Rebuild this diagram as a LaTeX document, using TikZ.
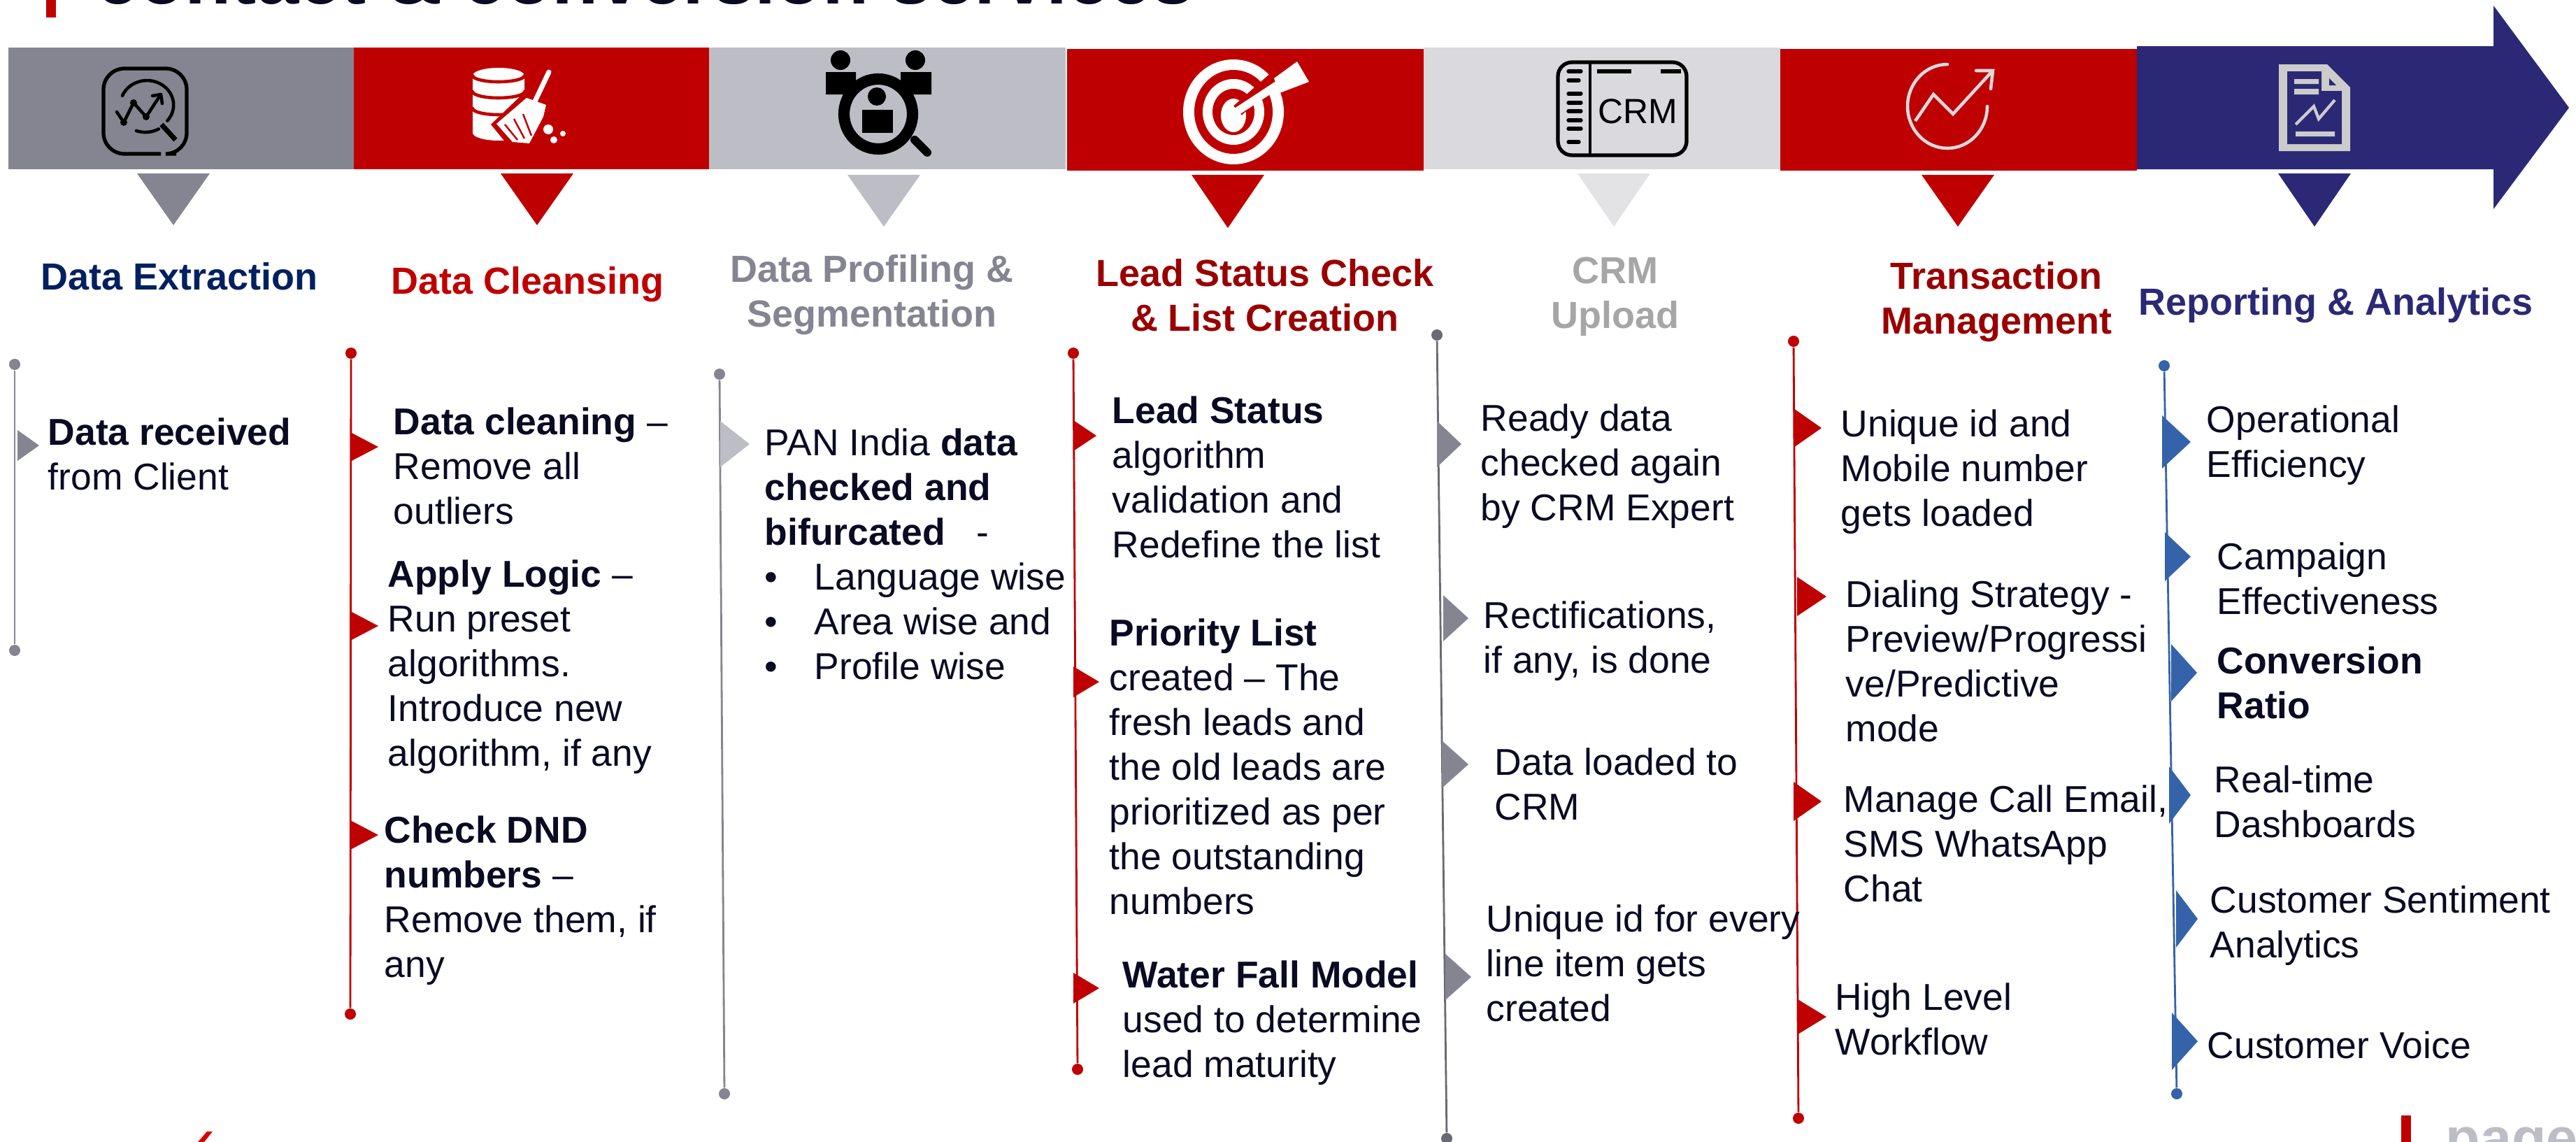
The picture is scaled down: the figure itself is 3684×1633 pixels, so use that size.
\documentclass[tikz,border=0pt]{standalone}
\usepackage{fontspec}
\setmainfont{Liberation Sans}
\usepackage{xcolor}
\definecolor{brick}{HTML}{BF0000}
\definecolor{darkred}{HTML}{990000}
\definecolor{slate}{HTML}{858592}
\definecolor{mist}{HTML}{BDBDC6}
\definecolor{haze}{HTML}{D9D9DE}
\definecolor{pale}{HTML}{E3E3E6}
\definecolor{indigo}{HTML}{2B2975}
\definecolor{steel}{HTML}{3563A9}
\definecolor{ink}{HTML}{0A0A23}
\definecolor{navy}{HTML}{002060}

\newcommand{\pin}[5]{\fill[#1] (#2,{#4-#5}) -- (#3,#4) -- (#2,{#4+#5}) -- cycle;}
\newcommand{\drop}[4]{\fill[#1] ({#2-52},#3) -- ({#2+52},#3) -- (#2,#4) -- cycle;}
\newcommand{\bul}{\makebox[7.1mm][l]{•}}

\begin{document}
\begin{tikzpicture}[
  x=0.01cm, y=-0.01cm,
  item/.style={anchor=north west, inner sep=0pt, align=left, text=ink, yshift=11pt, font=\fontsize{15.2}{18.2}\selectfont},
  head/.style={item, anchor=north, align=center, font=\fontsize{15.35}{18.2}\selectfont\bfseries},
  dot/.style={circle, inner sep=0pt, minimum size=1.6mm},
  tick/.style={line width=0.8pt},
  iconline/.style={line width=1.3pt, line cap=round, line join=round}
]
  \useasboundingbox (0,0) rectangle (3684,1633);
  \clip (0,0) rectangle (3684,1633);

  % title and footer
  \fill[brick] (66,0) rectangle (80,25);
  \node[anchor=base west, inner sep=0pt, text=ink, font=\fontsize{30.9}{36}\selectfont\bfseries] (title) at (137,5) {contact \& conversion services};
  \fill[brick] (3434,1595) rectangle (3448,1633);
  \node[anchor=base west, inner sep=0pt, text=mist, font=\fontsize{23}{28}\selectfont\bfseries] (page) at (3497,1655) {page};
  \fill[red!85!black] (296,1618) -- (304,1618) -- (292,1633) -- (283,1633) -- cycle;

  % band
  \fill[slate] (12,68) rectangle (506,242);
  \fill[brick] (506,68) rectangle (1014,242);
  \fill[mist] (1014,68) rectangle (1524,242);
  \fill[brick] (1526,70) rectangle (2036,244);
  \fill[haze] (2036,68) rectangle (2546,242);
  \fill[brick] (2546,70) rectangle (3056,244);
  \fill[indigo] (3056,66) -- (3566,66) -- (3566,8) -- (3674,154) -- (3566,299) -- (3566,242) -- (3056,242) -- cycle;

  \drop{slate}{248}{248}{322}
  \drop{brick}{768}{248}{322}
  \drop{mist}{1264}{250}{324}
  \drop{brick}{1756}{250}{326}
  \drop{pale}{2308}{248}{324}
  \drop{brick}{2800}{250}{324}
  \drop{indigo}{3310}{248}{324}

  % icon: chart
  \draw[black, line width=1.5pt, rounded corners=3mm] (230,220) -- (148,220) -- (148,98) -- (267,98) -- (267,220) -- (252,220);
  \draw[black, iconline] (175,137) arc (-158:40:38 and 35);
  \draw[black, iconline] (195,187) arc (110:60:38 and 35);
  \draw[black, iconline] (167,160) -- (177,175) -- (191,147) -- (209,167) -- (230,135);
  \draw[black, iconline] (218,137) -- (230,135) -- (232,148);
  \fill[black] (177,175) circle (5) (191,147) circle (5) (209,167) circle (5);
  \draw[black, line width=2pt] (231,178) -- (251,200);

  % icon: database and broom
  \fill[white] (676,108) -- (676,190) arc (180:0:37 and 11) -- (750,108) arc (0:-180:37 and 11) -- cycle;
  \draw[brick, iconline] (676,108) arc (180:0:37 and 9);
  \draw[brick, iconline] (676,131) arc (180:0:37 and 9);
  \draw[brick, iconline] (676,155) arc (180:0:37 and 9);
  \fill[brick] (702,178) -- (750,132) -- (790,146) -- (784,212) -- (730,212) -- cycle;
  \fill[white] (710,177) -- (753,140) -- (781,150) -- (777,167) -- (757,205) -- (733,203) -- cycle;
  \draw[white, line width=2pt, line cap=round] (785,103) -- (765,145);
  \draw[brick, line width=0.7pt] (722,178) -- (740,200) (735,170) -- (750,198) (748,163) -- (760,194);
  \fill[white] (784,185) circle (7) (792,200) circle (5) (805,191) circle (4);

  % icon: people under a lens
  \fill[black] (1202,86) circle (14) (1309,86) circle (14);
  \fill[black] (1181,103) rectangle (1224,135) (1288,103) rectangle (1332,135);
  \draw[black, line width=3.4pt, line cap=round] (1308,200) -- (1326,218);
  \draw[black, fill=mist, line width=4.6pt] (1256,163) ellipse (49 and 50);
  \fill[black] (1254,138) circle (13);
  \fill[black] (1233,157) rectangle (1277,190);

  % icon: target
  \fill[white] (1764,160) ellipse (72 and 75);
  \fill[brick] (1764,160) ellipse (56 and 60);
  \fill[white] (1764,160) ellipse (44 and 47);
  \fill[brick] (1764,160) ellipse (30 and 33);
  \fill[white] (1764,165) ellipse (18 and 24);
  \draw[brick, line width=5pt] (1770,158) -- (1840,96);
  \draw[white, line width=3.2pt] (1768,160) -- (1835,116);
  \fill[white] (1855,88) -- (1872,117) -- (1830,133) -- (1822,112) -- cycle;

  % icon: crm board
  \draw[black, line width=1.5pt, rounded corners=2mm] (2228,89) rectangle (2412,222);
  \draw[black, line width=1pt] (2274,89) -- (2274,222);
  \draw[black, line width=1.5pt, dash pattern=on 14 off 12] (2284,102) -- (2404,102);
  \draw[black, line width=1.5pt, line cap=round] (2243,102) -- (2261,102) (2243,115) -- (2258,115) (2243,134) -- (2261,134) (2243,147) -- (2261,147) (2243,159) -- (2261,159) (2243,172) -- (2261,172) (2243,184) -- (2261,184) (2243,203) -- (2258,203);
  \node[inner sep=0pt, text=black, font=\fontsize{14.2}{16}\selectfont] (crm) at (2342,159) {CRM};

  % icon: growth
  \draw[haze, line width=1.3pt, line cap=round] (2785,92) arc (-90:-360:57 and 60);
  \draw[haze, line width=1.3pt, line join=miter] (2739,173) -- (2765,135) -- (2793,163) -- (2848,103);
  \draw[haze, line width=1.3pt, line cap=round] (2826,101) -- (2850,101) -- (2847,127);

  % icon: report
  \fill[gray!40] (3259,92) -- (3328,92) -- (3361,125) -- (3361,216) -- (3259,216) -- cycle;
  \fill[indigo] (3271,102) -- (3320,102) -- (3320,130) -- (3349,130) -- (3349,206) -- (3271,206) -- cycle;
  \fill[indigo] (3331,112) -- (3341,122) -- (3331,122) -- cycle;
  \fill[gray!40] (3281,113) rectangle (3316,120) (3281,127) rectangle (3316,135) (3283,188) rectangle (3339,195);
  \draw[gray!40, line width=1.2pt] (3283,178) -- (3309,152) -- (3316,170) -- (3339,143);

  % headings
  \node[head, anchor=north west, text=navy] (hExtract) at (58,413) {Data Extraction};
  \node[head, anchor=north west, text=brick] (hClean) at (559,419) {Data Cleansing};
  \node[head, text=slate] (hProfile) at (1247,402) {Data Profiling \&\\Segmentation};
  \node[head, text=darkred] (hLead) at (1809,408) {Lead Status Check\\\& List Creation};
  \node[head, text=gray!70] (hCrm) at (2310,406) {CRM\\Upload};
  \node[head, text=darkred] (hTrans) at (2855,412) {Transaction\\Management};
  \node[head, anchor=north west, text=indigo] (hReport) at (3058,449) {Reporting \& Analytics};

  % timelines
  \node[dot, fill=slate] (a1) at (21,521) {};
  \node[dot, fill=slate] (a2) at (21,930) {};
  \draw[slate, tick] (a1) -- (a2);
  \pin{slate}{25}{56}{637}{22}

  \node[dot, fill=brick] (b1) at (502,505) {};
  \node[dot, fill=brick] (b2) at (501,1450) {};
  \draw[brick, tick] (b1) -- (b2);
  \pin{brick}{501}{541}{639}{21}
  \pin{brick}{501}{541}{895}{21}
  \pin{brick}{501}{541}{1194}{21}

  \node[dot, fill=slate] (c1) at (1029,535) {};
  \node[dot, fill=slate] (c2) at (1036,1564) {};
  \draw[slate, tick] (c1) -- (c2);
  \pin{mist}{1030}{1072}{635}{33}

  \node[dot, fill=brick] (d1) at (1535,505) {};
  \node[dot, fill=brick] (d2) at (1541,1529) {};
  \draw[brick, tick] (d1) -- (d2);
  \pin{brick}{1535}{1568}{623}{22}
  \pin{brick}{1535}{1572}{975}{22}
  \pin{brick}{1535}{1572}{1413}{22}

  \node[dot, fill=slate!80!black] (e1) at (2055,479) {};
  \node[dot, fill=slate!80!black] (e2) at (2069,1628) {};
  \draw[slate!80!black, tick] (e1) -- (e2);
  \pin{slate}{2055}{2090}{635}{33}
  \pin{slate}{2064}{2100}{884}{33}
  \pin{slate}{2062}{2100}{1093}{34}
  \pin{slate}{2067}{2104}{1397}{33}

  \node[dot, fill=brick] (f1) at (2565,488) {};
  \node[dot, fill=brick] (f2) at (2572,1599) {};
  \draw[brick, tick] (f1) -- (f2);
  \pin{brick}{2565}{2605}{612}{28}
  \pin{brick}{2570}{2612}{853}{28}
  \pin{brick}{2565}{2605}{1146}{28}
  \pin{brick}{2571}{2612}{1454}{25}

  \node[dot, fill=steel] (g1) at (3095,523) {};
  \node[dot, fill=steel] (g2) at (3113,1564) {};
  \draw[steel, tick] (g1) -- (g2);
  \pin{steel}{3092}{3133}{632}{38}
  \pin{steel}{3096}{3133}{796}{35}
  \pin{steel}{3105}{3142}{962}{41}
  \pin{steel}{3102}{3133}{1137}{41}
  \pin{steel}{3112}{3143}{1314}{41}
  \pin{steel}{3106}{3143}{1489}{41}

  % column texts
  \node[item] (t1) at (68,636) {\textbf{Data received}\\from Client};

  \node[item] (t2) at (562,621) {\textbf{Data cleaning} –\\Remove all\\outliers};
  \node[item] (t3) at (554,839) {\textbf{Apply Logic} –\\Run preset\\algorithms.\\Introduce new\\algorithm, if any};
  \node[item] (t4) at (549,1205) {\textbf{Check DND}\\\textbf{numbers} –\\Remove them, if\\any};

  \node[item] (t5) at (1093,651) {PAN India \textbf{data}\\\textbf{checked and}\\\textbf{bifurcated}\ \ \ -\\\bul Language wise\\\bul Area wise and\\\bul Profile wise};

  \node[item] (t6) at (1590,605) {\textbf{Lead Status}\\algorithm\\validation and\\Redefine the list};
  \node[item] (t7) at (1586,923) {\textbf{Priority List}\\created – The\\fresh leads and\\the old leads are\\prioritized as per\\the outstanding\\numbers};
  \node[item] (t8) at (1605,1412) {\textbf{Water Fall Model}\\used to determine\\lead maturity};

  \node[item] (t9) at (2117,616) {Ready data\\checked again\\by CRM Expert};
  \node[item] (t10) at (2121,898) {Rectifications,\\if any, is done};
  \node[item] (t11) at (2137,1108) {Data loaded to\\CRM};
  \node[item] (t12) at (2125,1332) {Unique id for every\\line item gets\\created};

  \node[item] (t13) at (2632,624) {Unique id and\\Mobile number\\gets loaded};
  \node[item] (t14) at (2639,868) {Dialing Strategy -\\Preview/Progressi\\ve/Predictive\\mode};
  \node[item] (t15) at (2636,1161) {Manage Call Email,\\SMS WhatsApp\\Chat};
  \node[item] (t16) at (2624,1444) {High Level\\Workflow};

  \node[item] (t17) at (3155,618) {Operational\\Efficiency};
  \node[item] (t18) at (3170,814) {Campaign\\Effectiveness};
  \node[item] (t19) at (3170,963) {\textbf{Conversion}\\\textbf{Ratio}};
  \node[item] (t20) at (3166,1133) {Real-time\\Dashboards};
  \node[item] (t21) at (3160,1305) {Customer Sentiment\\Analytics};
  \node[item] (t22) at (3156,1513) {Customer Voice};
\end{tikzpicture}
\end{document}
